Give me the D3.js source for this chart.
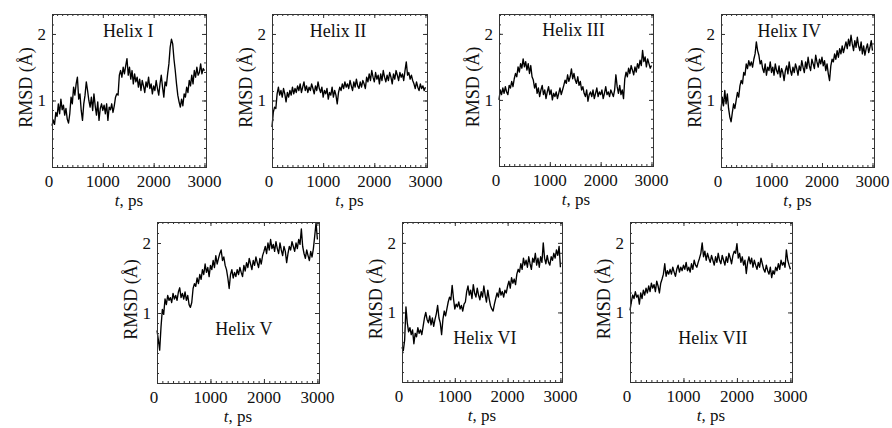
<!DOCTYPE html>
<meta charset="utf-8">
<style>
body{ margin:0; background:#fff; }
text{ font-family:"Liberation Serif","Times New Roman",serif; font-size:18px; fill:#111; }
.tl, .xt{ font-size:17px; }
.trace{ fill:none; stroke:#000; stroke-width:1.35px; stroke-linejoin:round; }
.frame{ fill:none; stroke:#333; stroke-width:1px; shape-rendering:crispEdges; }
.tick line{ stroke:#333; }
</style>
<body>
<script src="https://d3js.org/d3.v7.min.js"></script>
<script>
// sampling grid, ps
var times = d3.range(0, 3001, 25);

// RMSD values (A), one every 25 ps
var helix1 = [
 0.62,0.70,0.64,0.82,0.76,0.95,0.80,1.02,0.86,0.93,
 0.78,0.88,0.72,0.66,0.80,1.05,0.95,1.20,1.08,1.25,
 1.35,1.02,1.10,0.85,0.70,0.95,1.08,1.28,1.15,1.00,
 0.90,1.05,0.85,1.10,0.92,0.78,0.98,0.70,0.88,0.95,
 0.85,0.93,0.80,0.95,0.70,0.90,0.86,0.95,0.82,0.92,
 1.05,1.10,1.08,1.38,1.45,1.35,1.50,1.40,1.52,1.63,
 1.38,1.50,1.32,1.45,1.25,1.40,1.28,1.35,1.20,1.32,
 1.15,1.30,1.22,1.12,1.28,1.20,1.35,1.18,1.25,1.10,
 1.22,1.15,1.30,1.18,1.08,1.25,1.38,1.20,1.05,1.28,
 1.22,1.40,1.55,1.80,1.92,1.85,1.62,1.45,1.25,1.08,
 0.98,0.90,1.02,0.92,1.10,1.05,1.20,1.12,1.30,1.22,
 1.38,1.25,1.45,1.35,1.50,1.38,1.42,1.55,1.40,1.48,
 1.45];
var helix2 = [
 0.60,0.82,0.90,0.88,1.10,1.20,1.08,1.15,1.05,1.18,
 1.10,0.98,1.12,1.05,1.15,1.08,1.20,1.10,1.18,1.12,
 1.22,1.15,1.25,1.12,1.20,1.28,1.15,1.22,1.12,1.20,
 1.15,1.25,1.18,1.10,1.22,1.15,1.28,1.18,1.12,1.20,
 1.05,1.15,1.10,1.18,1.02,1.12,1.08,1.20,1.05,1.15,
 1.08,0.95,1.12,1.20,1.15,1.25,1.18,1.28,1.20,1.25,
 1.18,1.30,1.22,1.15,1.28,1.20,1.32,1.22,1.18,1.28,
 1.20,1.30,1.25,1.18,1.35,1.28,1.40,1.30,1.45,1.35,
 1.28,1.42,1.32,1.38,1.25,1.40,1.30,1.45,1.35,1.28,
 1.38,1.30,1.42,1.35,1.25,1.40,1.32,1.45,1.38,1.30,
 1.42,1.35,1.40,1.30,1.45,1.58,1.38,1.42,1.32,1.38,
 1.30,1.25,1.18,1.28,1.20,1.15,1.25,1.18,1.22,1.15,
 1.20];
var helix3 = [
 1.00,1.15,1.08,1.18,1.10,1.20,1.12,1.08,1.22,1.18,
 1.28,1.20,1.32,1.40,1.35,1.50,1.42,1.55,1.48,1.62,
 1.50,1.58,1.45,1.55,1.40,1.52,1.35,1.30,1.18,1.25,
 1.10,1.18,1.05,1.15,1.22,1.08,1.15,1.02,1.12,1.20,
 1.08,1.15,1.00,1.10,1.05,1.12,1.02,1.10,1.18,1.08,
 1.15,1.22,1.30,1.25,1.38,1.28,1.35,1.47,1.32,1.40,
 1.30,1.25,1.35,1.22,1.28,1.15,1.20,1.10,1.05,1.15,
 0.98,1.08,1.12,1.05,1.15,1.02,1.10,1.18,1.05,1.12,
 1.08,1.15,1.02,1.10,1.20,1.08,1.12,1.05,1.15,1.10,
 1.05,1.15,1.38,1.20,1.10,1.22,1.08,1.15,1.02,1.32,
 1.42,1.35,1.48,1.40,1.52,1.45,1.38,1.50,1.42,1.55,
 1.48,1.60,1.52,1.75,1.58,1.65,1.50,1.62,1.55,1.48,
 1.52];
var helix4 = [
 0.85,1.05,0.92,1.15,0.95,1.10,0.88,0.75,0.68,0.82,
 0.95,0.88,1.00,1.12,1.05,1.22,1.30,1.25,1.42,1.38,
 1.55,1.48,1.60,1.52,1.58,1.50,1.62,1.70,1.88,1.75,
 1.68,1.55,1.60,1.48,1.42,1.55,1.38,1.50,1.45,1.58,
 1.42,1.50,1.38,1.55,1.45,1.40,1.52,1.35,1.48,1.42,
 1.30,1.45,1.52,1.40,1.58,1.45,1.38,1.50,1.42,1.55,
 1.48,1.38,1.52,1.45,1.60,1.50,1.42,1.58,1.48,1.65,
 1.52,1.45,1.62,1.55,1.48,1.68,1.58,1.50,1.62,1.55,
 1.65,1.52,1.60,1.45,1.55,1.40,1.30,1.52,1.62,1.58,
 1.70,1.62,1.75,1.65,1.78,1.70,1.82,1.72,1.80,1.88,
 1.78,1.92,1.82,1.98,1.85,1.75,1.90,1.80,1.95,1.82,
 1.75,1.88,1.70,1.82,1.68,1.78,1.85,1.72,1.80,1.90,
 1.75];
var helix5 = [
 0.75,0.62,0.47,0.80,1.05,0.98,1.20,1.12,1.25,1.18,
 1.22,1.15,1.28,1.20,1.25,1.18,1.30,1.36,1.22,1.28,
 1.20,1.30,1.18,1.25,1.12,1.08,1.15,1.35,1.42,1.38,
 1.50,1.42,1.55,1.48,1.62,1.55,1.70,1.58,1.65,1.52,
 1.68,1.62,1.75,1.65,1.82,1.70,1.78,1.85,1.90,1.75,
 1.80,1.68,1.62,1.50,1.35,1.55,1.62,1.50,1.58,1.52,
 1.62,1.55,1.65,1.58,1.52,1.68,1.60,1.72,1.65,1.78,
 1.70,1.62,1.75,1.68,1.80,1.72,1.65,1.78,1.70,1.82,
 1.88,1.95,1.85,2.00,1.90,2.05,1.92,1.98,1.88,2.02,
 1.92,1.85,2.00,1.90,1.82,1.95,1.88,1.72,1.85,1.95,
 1.90,2.02,1.95,1.88,2.00,1.92,2.05,1.98,2.20,1.95,
 1.85,1.78,1.90,1.82,1.75,1.88,1.80,1.92,2.10,2.29,
 2.05];
var helix6 = [
 0.50,0.45,0.60,1.08,0.85,0.72,0.78,0.68,0.75,0.55,
 0.70,0.65,0.78,0.70,0.75,0.68,0.80,0.92,1.00,0.90,
 0.85,0.95,0.82,0.92,0.80,0.90,0.98,1.10,0.92,0.85,
 0.68,0.90,1.02,0.95,1.05,1.15,1.22,1.18,1.39,1.20,
 1.05,1.12,1.08,1.15,1.05,1.10,1.02,1.12,1.15,1.30,
 1.38,1.25,1.32,1.20,1.40,1.28,1.22,1.35,1.25,1.18,
 1.30,1.22,1.38,1.25,1.15,1.32,1.20,1.10,1.05,1.02,
 1.12,1.20,1.28,1.22,1.35,1.25,1.30,1.22,1.32,1.28,
 1.38,1.45,1.35,1.50,1.42,1.48,1.40,1.55,1.62,1.58,
 1.70,1.62,1.78,1.68,1.75,1.65,1.80,1.70,1.62,1.78,
 1.72,1.85,1.68,1.78,1.65,1.80,1.72,2.00,1.78,1.70,
 1.82,1.72,1.68,1.80,1.75,1.85,1.78,1.90,1.82,1.95,
 1.65];
var helix7 = [
 1.03,1.15,1.25,1.20,1.30,1.22,1.25,1.12,1.28,1.20,
 1.32,1.25,1.35,1.28,1.38,1.30,1.42,1.35,1.40,1.30,
 1.45,1.38,1.28,1.42,1.48,1.55,1.70,1.52,1.60,1.55,
 1.62,1.55,1.65,1.58,1.52,1.62,1.68,1.58,1.65,1.60,
 1.68,1.62,1.72,1.60,1.65,1.58,1.70,1.62,1.75,1.68,
 1.65,1.72,1.78,1.85,2.00,1.80,1.88,1.75,1.85,1.78,
 1.72,1.82,1.75,1.68,1.80,1.72,1.85,1.75,1.70,1.82,
 1.75,1.68,1.80,1.72,1.85,1.78,1.70,1.82,1.88,1.85,
 1.99,1.78,1.85,1.72,1.80,1.68,1.75,1.56,1.72,1.80,
 1.70,1.78,1.65,1.75,1.68,1.62,1.72,1.65,1.78,1.70,
 1.62,1.58,1.68,1.60,1.55,1.65,1.50,1.60,1.55,1.65,
 1.60,1.70,1.62,1.75,1.68,1.72,1.65,1.90,1.75,1.68,
 1.62];

var series = [helix1, helix2, helix3, helix4, helix5, helix6, helix7];
var names = ["Helix I","Helix II","Helix III","Helix IV","Helix V","Helix VI","Helix VII"];
var xTicks = [0, 1000, 2000, 3000];
var yTicks = [1, 2];
var xMinor = d3.range(0, 3001, 100);
var yMinor = d3.range(0, 2.3, 1/7);

// panel boxes and where each name sits (in data units)
var panels = [
  {left:52,  top:14,  w:154, h:153, tx:1500, ty:1.96},
  {left:272, top:14,  w:155, h:153, tx:1290, ty:1.96},
  {left:499, top:14,  w:154, h:152, tx:1465, ty:1.96},
  {left:721, top:14,  w:153, h:153, tx:1350, ty:1.96},
  {left:157, top:222, w:162, h:161, tx:1626, ty:0.69},
  {left:402, top:222, w:160, h:160, tx:1570, ty:0.55},
  {left:630, top:222, w:162, h:160, tx:1550, ty:0.55}
];

var svg = d3.select("body").append("svg").attr("width", 892).attr("height", 428);

panels.forEach(function(p, i){
  var g = svg.append("g").attr("transform", "translate(" + p.left + "," + p.top + ")");
  var x = d3.scaleLinear().domain([0, 3030]).range([0, p.w]);
  var y = d3.scaleLinear().domain([0, 2.3]).range([p.h, 0]);

  // inward ticks on all four sides
  function ticks(axis, tr){
    var a = g.append("g").attr("transform", tr).call(axis);
    a.select(".domain").remove();
    a.selectAll("text").remove();
  }
  ticks(d3.axisBottom(x).tickValues(xMinor).tickSize(-2), "translate(0," + p.h + ")");
  ticks(d3.axisTop(x).tickValues(xMinor).tickSize(-2), "translate(0,0)");
  ticks(d3.axisBottom(x).tickValues(xTicks).tickSize(-4), "translate(0," + p.h + ")");
  ticks(d3.axisTop(x).tickValues(xTicks).tickSize(-4), "translate(0,0)");
  ticks(d3.axisLeft(y).tickValues(yMinor).tickSize(-2), "translate(0,0)");
  ticks(d3.axisRight(y).tickValues(yMinor).tickSize(-2), "translate(" + p.w + ",0)");
  ticks(d3.axisLeft(y).tickValues(yTicks).tickSize(-4), "translate(0,0)");
  ticks(d3.axisRight(y).tickValues(yTicks).tickSize(-4), "translate(" + p.w + ",0)");

  var line = d3.line().x(function(d, j){ return x(times[j]); }).y(function(d){ return y(d); });
  g.append("path").attr("class", "trace").datum(series[i]).attr("d", line);

  g.append("rect").attr("class", "frame").attr("width", p.w).attr("height", p.h);

  g.selectAll(".xl").data(xTicks).enter().append("text").attr("class", "tl")
    .attr("x", function(d){ return x(d) - (d === 0 ? 3 : 0); }).attr("y", p.h + 20)
    .attr("text-anchor", "middle").text(function(d){ return d; });
  g.selectAll(".yl").data(yTicks).enter().append("text").attr("class", "tl")
    .attr("x", -6).attr("y", function(d){ return y(d) + 6; })
    .attr("text-anchor", "end").text(function(d){ return d; });

  var xt = g.append("text").attr("class", "xt").attr("x", p.w / 2).attr("y", p.h + 39).attr("text-anchor", "middle");
  xt.append("tspan").attr("font-style", "italic").text("t");
  xt.append("tspan").text(", ps");

  g.append("text").attr("transform", "translate(-20," + (p.h / 2 - 3) + ") rotate(-90)")
    .attr("text-anchor", "middle").text("RMSD (Å)");

  g.append("text").attr("x", x(p.tx)).attr("y", y(p.ty))
    .attr("text-anchor", "middle").text(names[i]);
});
</script>
</body>
</html>
